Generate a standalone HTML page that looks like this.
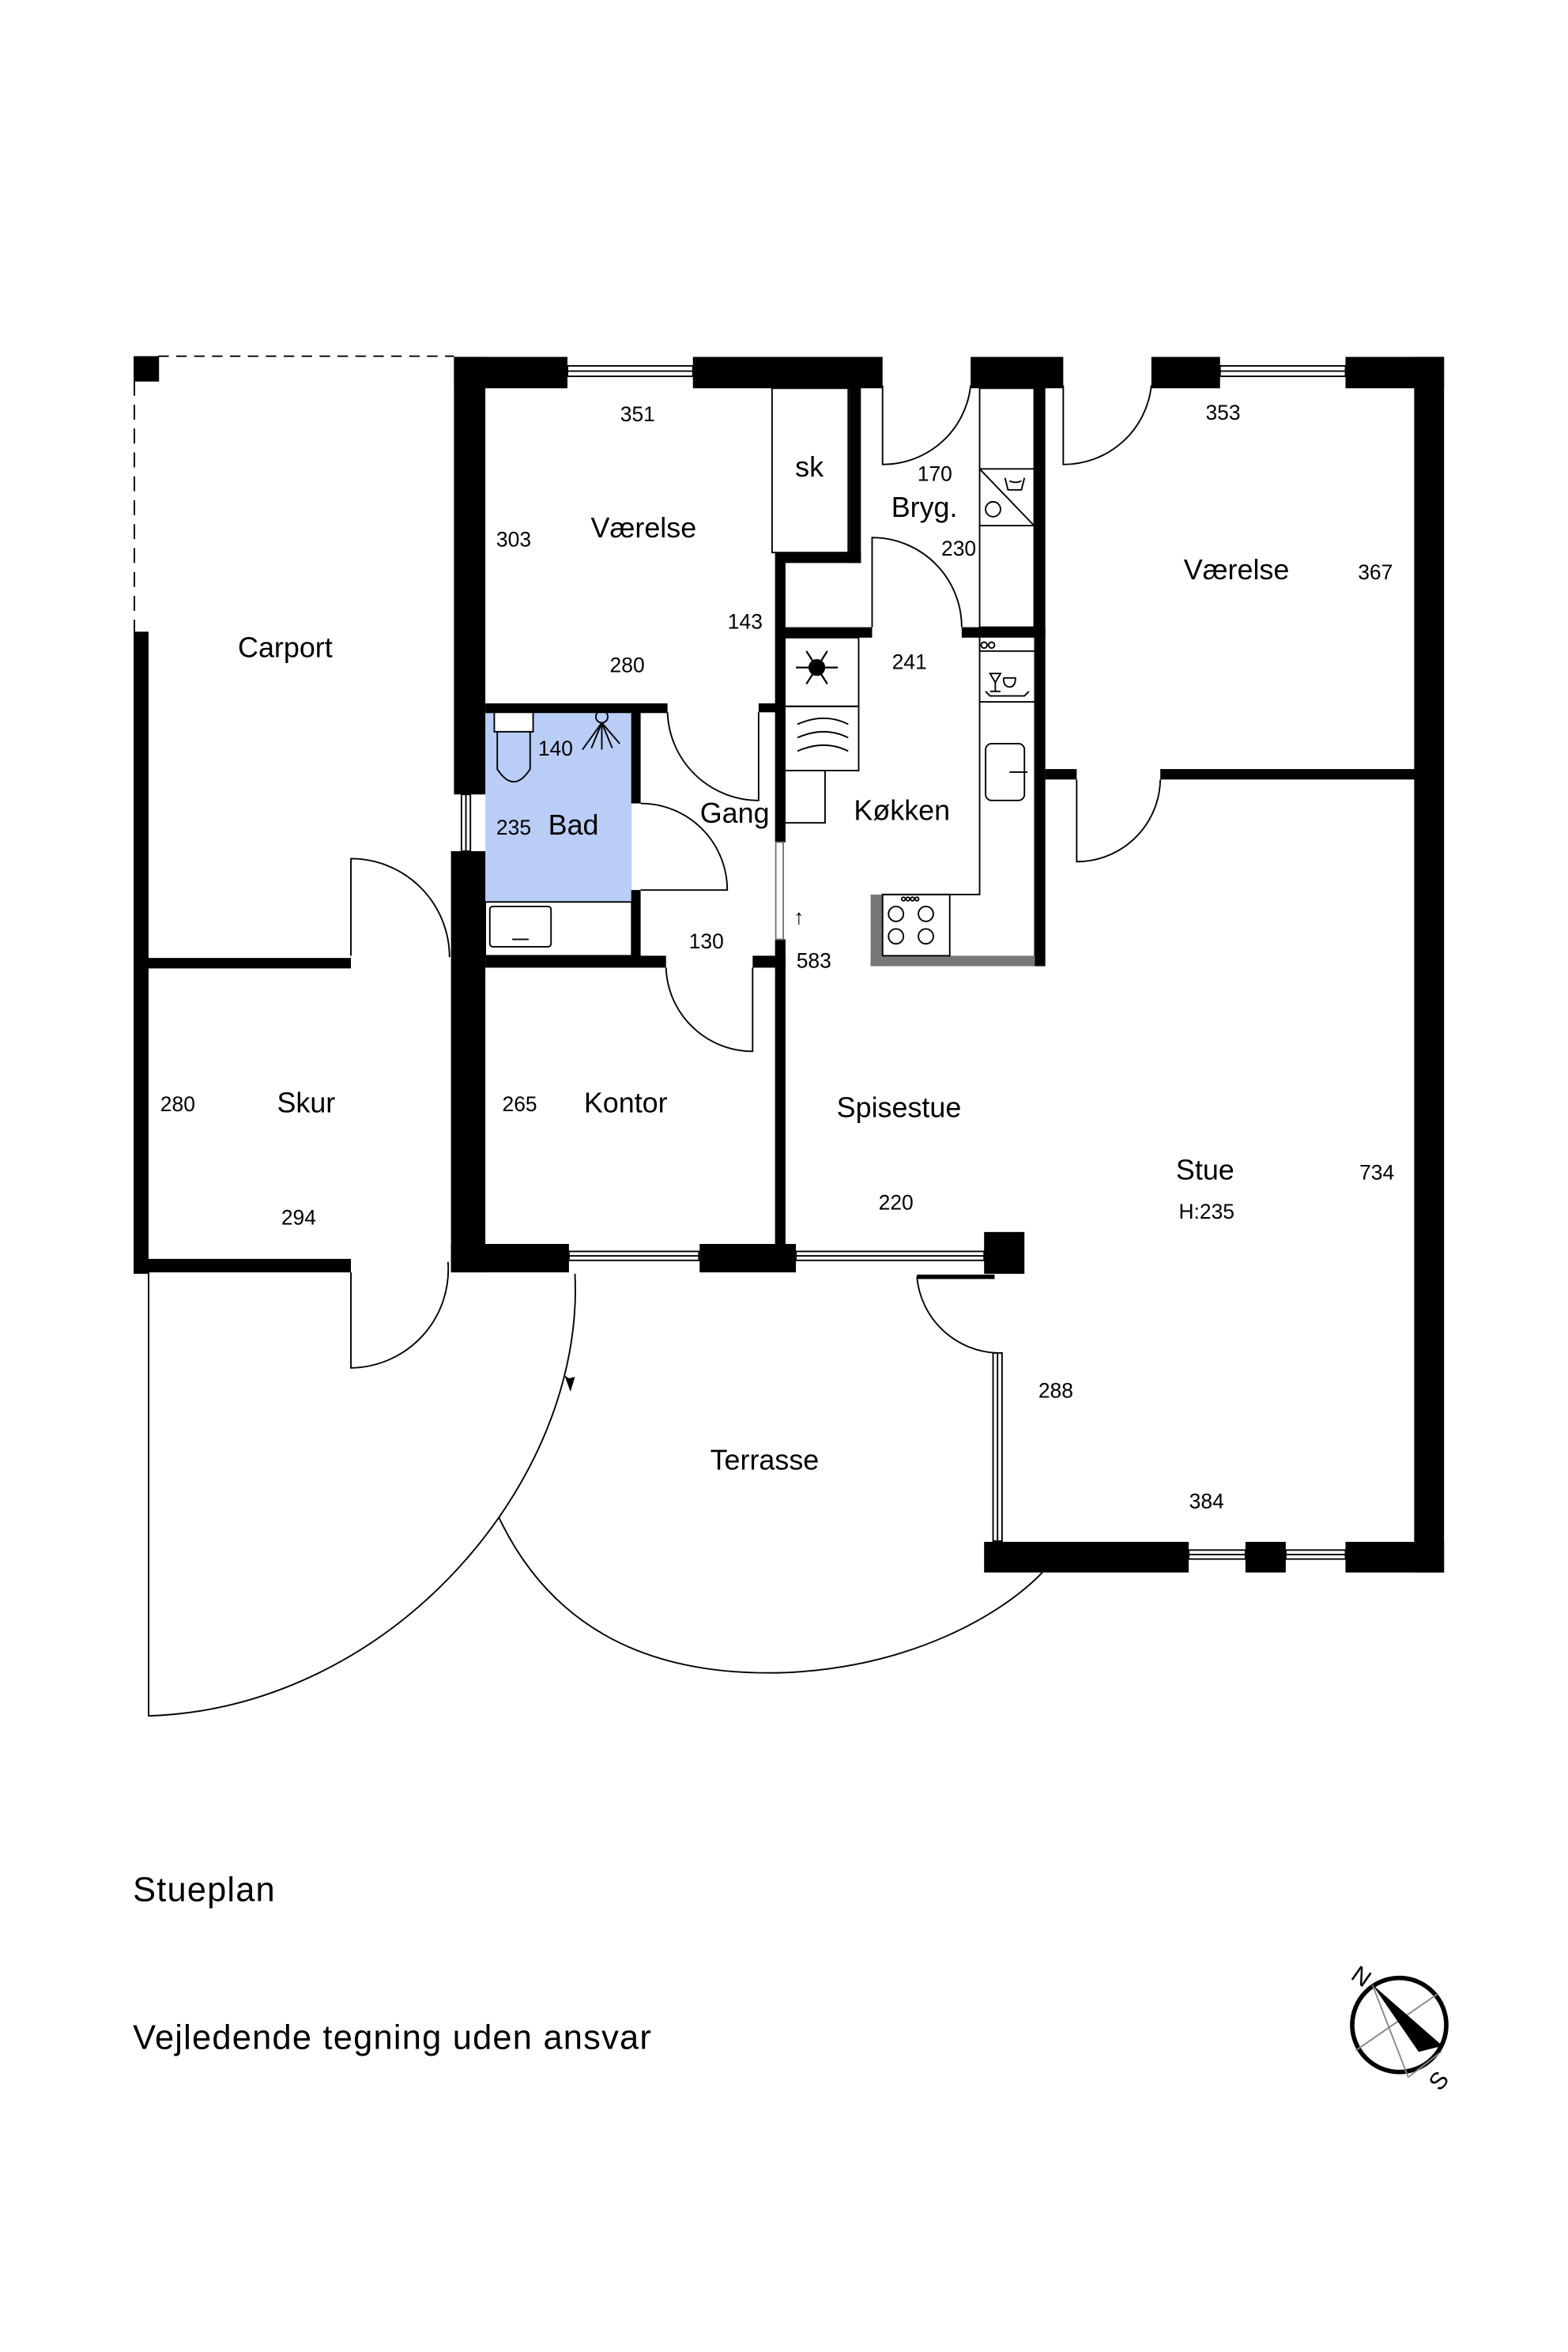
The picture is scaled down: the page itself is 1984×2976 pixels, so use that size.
<!DOCTYPE html>
<html><head><meta charset="utf-8"><style>
html,body{margin:0;padding:0;background:#fff;}
svg{display:block;}
text{font-family:"Liberation Sans",Arial,sans-serif;fill:#000;}
.r{font-size:19px;}
.d{font-size:14px;}
</style></head><body>
<svg width="1984" height="2976" viewBox="0 0 1050 1575" preserveAspectRatio="none" xmlns="http://www.w3.org/2000/svg">
<rect width="1050" height="1575" fill="#fff"/>
<rect x="325" y="477" width="98" height="127" fill="#b9cdf6"/>
<g fill="#000">
<rect x="89.5" y="238.5" width="17" height="17"/>
<rect x="89.5" y="423" width="10" height="430"/>
<rect x="99" y="641.5" width="136" height="7"/>
<rect x="99" y="843" width="136" height="9"/>
<rect x="304" y="239" width="21" height="293"/>
<rect x="302" y="570" width="23" height="282"/>
<rect x="304" y="239" width="76" height="21"/>
<rect x="464" y="239" width="127" height="21"/>
<rect x="650" y="239" width="62" height="21"/>
<rect x="771" y="239" width="46" height="21"/>
<rect x="901" y="239" width="66" height="21"/>
<rect x="947" y="239" width="20" height="814"/>
<rect x="568.5" y="258" width="8" height="119"/>
<rect x="519.5" y="370" width="57" height="7"/>
<rect x="519" y="370" width="7" height="194"/>
<rect x="519" y="629" width="7" height="204"/>
<rect x="508" y="471" width="12" height="6"/>
<rect x="525" y="420" width="59" height="7"/>
<rect x="644" y="420" width="56" height="7"/>
<rect x="692.5" y="252" width="7.5" height="395"/>
<rect x="325" y="471" width="122" height="6.5"/>
<rect x="422.7" y="477" width="6.3" height="61"/>
<rect x="422.7" y="596" width="6.3" height="45"/>
<rect x="325" y="640" width="121" height="8"/>
<rect x="504" y="640" width="22" height="8"/>
<rect x="302" y="833" width="79" height="19"/>
<rect x="468.5" y="833" width="64.5" height="19"/>
<rect x="659" y="825" width="27" height="28"/>
<rect x="700" y="515" width="21" height="7"/>
<rect x="777" y="515" width="172" height="7"/>
<rect x="659" y="1032.5" width="137" height="20.5"/>
<rect x="834" y="1032.5" width="27" height="20.5"/>
<rect x="901" y="1032.5" width="66" height="20.5"/>
</g>
<rect x="583" y="599" width="8" height="48" fill="#777"/>
<rect x="583" y="640" width="110" height="7" fill="#777"/>
<g fill="none" stroke="#000" stroke-width="1">
<line x1="106" y1="238.5" x2="304" y2="238.5" stroke-dasharray="7,5"/>
<line x1="90" y1="255" x2="90" y2="423" stroke-dasharray="10,6"/>
<rect x="380" y="245" width="84" height="7"/><line x1="380" y1="248.5" x2="464" y2="248.5"/>
<rect x="817" y="245" width="84" height="7"/><line x1="817" y1="248.5" x2="901" y2="248.5"/>
<rect x="309" y="532" width="6" height="38"/><line x1="312" y1="532" x2="312" y2="570"/>
<rect x="519.5" y="564" width="5" height="65" stroke="#777"/>
<rect x="381" y="838" width="87" height="6"/><line x1="381" y1="841" x2="468" y2="841"/>
<rect x="533" y="838" width="126" height="6"/><line x1="533" y1="841" x2="659" y2="841"/>
<rect x="665" y="906" width="6" height="126"/><line x1="668" y1="906" x2="668" y2="1032"/>
<rect x="796" y="1038" width="38" height="6"/><line x1="796" y1="1041" x2="834" y2="1041"/>
<rect x="861" y="1038" width="40" height="6"/><line x1="861" y1="1041" x2="901" y2="1041"/>
<rect x="517" y="260" width="51" height="110"/>
<path d="M235 640 V575 A66 66 0 0 1 301 641"/>
<path d="M235 852 V916 A66 66 0 0 0 300 845"/>
<path d="M508 477 V536 A61 61 0 0 1 447 477"/>
<path d="M429 596 H487 A58 58 0 0 0 429 538"/>
<path d="M504 648 V704 A58 58 0 0 1 446 648"/>
<path d="M591 258 V311 A59 59 0 0 0 650 258"/>
<path d="M712 258 V311 A59 59 0 0 0 771 258"/>
<path d="M584 420 V360 A60 60 0 0 1 644 420"/>
<path d="M721 522 V577 A56 56 0 0 0 777 522"/>
<path d="M614 855 A56 56 0 0 0 668 906"/>
<line x1="614" y1="855" x2="666" y2="855" stroke-width="3"/>
<path d="M99.5 852 V1149 C262 1144 392 992 385 853"/>
<path d="M334 1016 C380 1113 470 1122 527 1120 C610 1116 670 1082 698 1053"/>
<rect x="331" y="477" width="26" height="13" fill="#fff"/>
<path d="M333 490 V515 Q344 532 355 515 V490"/>
<circle cx="403" cy="480" r="4"/>
<path d="M403 484 V502 M403 484 L390 502 M403 484 L396 501 M403 484 L410 501 M403 484 L415 498"/>
<rect x="325" y="604" width="98" height="36"/>
<rect x="328" y="607" width="41" height="27" rx="2"/>
<path d="M343 629 H354"/>
<rect x="525.5" y="427" width="49.5" height="46"/>
<rect x="525.5" y="473" width="49.5" height="43"/>
<rect x="525.5" y="516" width="27" height="35"/>
<path d="M534 485 q18 -8 34 0 M534 494 q18 -8 34 0 M534 503 q18 -8 34 0"/>
<path d="M656 427 V599 H591"/>
<line x1="656" y1="436" x2="693" y2="436"/><line x1="656" y1="470" x2="693" y2="470"/>
<circle cx="659" cy="432" r="2"/><circle cx="664" cy="432" r="2"/>
<path d="M663 451 h7 l-3.5 6 z M666.5 457 v6 M663 463 h7 M672 454 h8 q0 6 -4 6 q-4 0 -4 -6 M660 463 l3 3 h23 l3 -3"/>
<rect x="660" y="498" width="26" height="38" rx="4"/>
<line x1="676" y1="517" x2="688" y2="517"/>
<rect x="591" y="599" width="45" height="41"/>
<circle cx="600" cy="612" r="5"/><circle cx="620" cy="612" r="5"/><circle cx="600" cy="627" r="5"/><circle cx="620" cy="627" r="5"/>
<circle cx="605" cy="602" r="1.2"/><circle cx="608" cy="602" r="1.2"/><circle cx="611" cy="602" r="1.2"/><circle cx="614" cy="602" r="1.2"/>
<rect x="656" y="260" width="36.5" height="160"/>
<line x1="656" y1="314" x2="692.5" y2="314"/><line x1="656" y1="352" x2="692.5" y2="352"/>
<line x1="656" y1="314" x2="692.5" y2="352"/>
<circle cx="665" cy="341" r="5"/>
<path d="M673 320 l2 8 h9 l2 -8 M676 322 q4 2 8 0"/>
<circle cx="937" cy="1356" r="31.5" stroke-width="3"/>
<path d="M919 1329 L943 1391 M943 1391 L965 1374 M908 1373 L963 1335" stroke="#888"/>
</g>
<path d="M919 1329 L966 1370 L950 1374 Z" fill="#000"/>
<g stroke="#000" stroke-width="1.2" fill="none">
<circle cx="547" cy="447" r="5" fill="#000"/>
<path d="M533 447 H561 M540 436 L554 458 M554 436 L540 458"/>
</g>
<path d="M381 923 L385 922 L382 932 L378 921 Z" fill="#000"/>
<text class="r" x="431" y="360" text-anchor="middle">Værelse</text>
<text class="r" x="828" y="388" text-anchor="middle">Værelse</text>
<text class="r" x="191" y="440" text-anchor="middle">Carport</text>
<text class="r" x="542" y="319" text-anchor="middle">sk</text>
<text class="r" x="619" y="346" text-anchor="middle">Bryg.</text>
<text class="r" x="384" y="559" text-anchor="middle">Bad</text>
<text class="r" x="492" y="551" text-anchor="middle">Gang</text>
<text class="r" x="604" y="549" text-anchor="middle">Køkken</text>
<text class="r" x="205" y="745" text-anchor="middle">Skur</text>
<text class="r" x="419" y="745" text-anchor="middle">Kontor</text>
<text class="r" x="602" y="748" text-anchor="middle">Spisestue</text>
<text class="r" x="807" y="790" text-anchor="middle">Stue</text>
<text class="r" x="512" y="984" text-anchor="middle">Terrasse</text>
<text class="d" x="427" y="282" text-anchor="middle">351</text>
<text class="d" x="344" y="366" text-anchor="middle">303</text>
<text class="d" x="499" y="421" text-anchor="middle">143</text>
<text class="d" x="420" y="450" text-anchor="middle">280</text>
<text class="d" x="372" y="506" text-anchor="middle">140</text>
<text class="d" x="344" y="559" text-anchor="middle">235</text>
<text class="d" x="473" y="635" text-anchor="middle">130</text>
<text class="d" x="535" y="619" text-anchor="middle">↑</text>
<text class="d" x="545" y="648" text-anchor="middle">583</text>
<text class="d" x="626" y="322" text-anchor="middle">170</text>
<text class="d" x="642" y="372" text-anchor="middle">230</text>
<text class="d" x="609" y="448" text-anchor="middle">241</text>
<text class="d" x="819" y="281" text-anchor="middle">353</text>
<text class="d" x="921" y="388" text-anchor="middle">367</text>
<text class="d" x="119" y="744" text-anchor="middle">280</text>
<text class="d" x="200" y="820" text-anchor="middle">294</text>
<text class="d" x="348" y="744" text-anchor="middle">265</text>
<text class="d" x="600" y="810" text-anchor="middle">220</text>
<text class="d" x="808" y="816" text-anchor="middle">H:235</text>
<text class="d" x="922" y="790" text-anchor="middle">734</text>
<text class="d" x="707" y="936" text-anchor="middle">288</text>
<text class="d" x="808" y="1010" text-anchor="middle">384</text>
<text x="89" y="1273" font-size="23" textLength="95">Stueplan</text>
<text x="89" y="1372" font-size="23" textLength="347">Vejledende tegning uden ansvar</text>
<text x="912" y="1329" font-size="16" transform="rotate(35 912 1323)" text-anchor="middle">N</text>
<text x="963" y="1399" font-size="16" transform="rotate(-50 963 1393)" text-anchor="middle">S</text>
</svg>
</body></html>
